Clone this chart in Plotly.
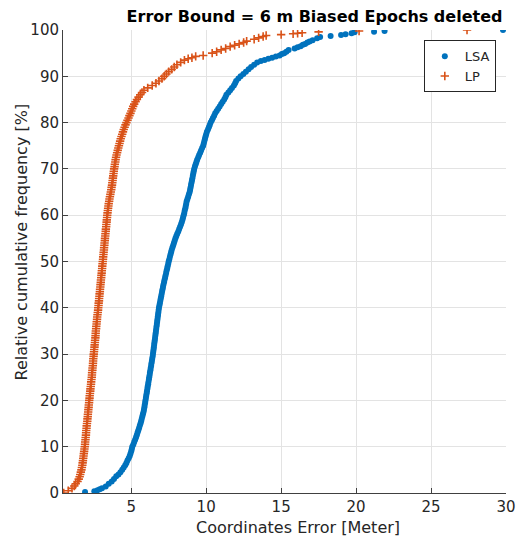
import plotly.graph_objects as go

# ---- data (cumulative percent, coordinate error in m) ----
lp_pct = [0, 0.5, 1, 1.5, 2, 2.5, 3, 3.5, 4, 4.5, 5, 5.5, 6, 6.5, 7, 7.5, 8, 8.5, 9, 9.5,
          10, 10.5, 11, 11.5, 12, 12.5, 13, 13.5, 14, 14.5, 15, 15.5, 16, 16.5, 17, 17.5, 18, 18.5, 19, 19.5,
          20, 20.5, 21, 21.5, 22, 22.5, 23, 23.5, 24, 24.5, 25, 25.5, 26, 26.5, 27, 27.5, 28, 28.5, 29, 29.5,
          30, 30.5, 31, 31.5, 32, 32.5, 33, 33.5, 34, 34.5, 35, 35.5, 36, 36.5, 37, 37.5, 38, 38.5, 39, 39.5,
          40, 40.5, 41, 41.5, 42, 42.5, 43, 43.5, 44, 44.5, 45, 45.5, 46, 46.5, 47, 47.5, 48, 48.5, 49, 49.5,
          50, 50.5, 51, 51.5, 52, 52.5, 53, 53.5, 54, 54.5, 55, 55.5, 56, 56.5, 57, 57.5, 58, 58.5, 59, 59.5,
          60, 60.5, 61, 61.5, 62, 62.5, 63, 63.5, 64, 64.5, 65, 65.5, 66, 66.5, 67, 67.5, 68, 68.5, 69, 69.5,
          70, 70.5, 71, 71.5, 72, 72.5, 73, 73.5, 74, 74.5, 75, 75.5, 76, 76.5, 77, 77.5, 78, 78.5, 79, 79.5,
          80, 80.5, 81, 81.5, 82, 82.5, 83, 83.5, 84, 84.5, 85, 85.5, 86, 86.5, 87, 87.5, 88, 88.5, 89, 89.5,
          90, 90.5, 91, 91.5, 92, 92.5, 93, 93.5, 93.8, 94, 94.3, 94.5, 95, 95.3, 95.7, 96, 96.4, 96.7, 97,
          97.3, 97.6, 98, 98.3, 98.6, 98.8, 99.0, 99.2, 99.3, 99.4, 99.6, 99.8, 100]
lp_err = [0.5, 0.8, 1.05, 1.2, 1.3, 1.42, 1.5, 1.56, 1.6, 1.64, 1.68, 1.71, 1.74, 1.76, 1.78, 1.8, 1.82, 1.84, 1.86, 1.88,
          1.9, 1.92, 1.93, 1.95, 1.96, 1.98, 1.99, 2.0, 2.02, 2.03, 2.05, 2.07, 2.08, 2.1, 2.11, 2.13, 2.14, 2.16, 2.17, 2.19,
          2.2, 2.22, 2.23, 2.25, 2.27, 2.28, 2.3, 2.32, 2.33, 2.35, 2.37, 2.38, 2.39, 2.41, 2.42, 2.44, 2.45, 2.46, 2.47, 2.49,
          2.5, 2.52, 2.53, 2.55, 2.56, 2.58, 2.59, 2.61, 2.62, 2.63, 2.64, 2.66, 2.67, 2.69, 2.7, 2.72, 2.73, 2.75, 2.77, 2.79,
          2.8, 2.82, 2.83, 2.85, 2.86, 2.88, 2.89, 2.91, 2.92, 2.94, 2.95, 2.97, 2.98, 3.0, 3.01, 3.03, 3.04, 3.06, 3.07, 3.09,
          3.1, 3.12, 3.13, 3.15, 3.16, 3.18, 3.19, 3.21, 3.22, 3.24, 3.25, 3.27, 3.28, 3.3, 3.31, 3.33, 3.34, 3.36, 3.37, 3.39,
          3.4, 3.42, 3.44, 3.46, 3.48, 3.5, 3.53, 3.55, 3.58, 3.61, 3.64, 3.67, 3.69, 3.72, 3.74, 3.76, 3.78, 3.8, 3.82, 3.84,
          3.86, 3.89, 3.91, 3.94, 3.96, 3.99, 4.02, 4.06, 4.1, 4.14, 4.18, 4.22, 4.26, 4.3, 4.35, 4.4, 4.45, 4.5, 4.56, 4.62,
          4.68, 4.75, 4.82, 4.88, 4.95, 5.01, 5.07, 5.13, 5.2, 5.29, 5.38, 5.49, 5.6, 5.72, 5.85, 6.1, 6.4, 6.65, 6.85, 7.05,
          7.2, 7.35, 7.5, 7.7, 7.87, 8.05, 8.3, 8.55, 8.8, 9.05, 9.3, 9.8, 10.4, 10.7, 11.0, 11.3, 11.6, 11.9, 12.2,
          12.5, 12.7, 13.2, 13.5, 13.8, 14.0, 15.0, 15.8, 16.1, 16.4, 17.5, 20.2, 27.4]

lsa_pct = [0.2, 0.4, 0.6, 0.8, 1.0, 1.4, 2, 2.5, 3, 3.6,
           4, 4.5, 5, 5.5, 6, 6.5, 7, 7.5, 8, 8.5, 9, 9.5,
           10, 10.5, 11, 11.5, 12, 12.5, 13, 13.5, 14, 14.5, 15, 15.5, 16, 16.5, 17, 17.5, 18, 18.5, 19, 19.5,
           20, 20.5, 21, 21.5, 22, 22.5, 23, 23.5, 24, 24.5, 25, 25.5, 26, 26.5, 27, 27.5, 28, 28.5, 29, 29.5,
           30, 30.5, 31, 31.5, 32, 32.5, 33, 33.5, 34, 34.5, 35, 35.5, 36, 36.5, 37, 37.5, 38, 38.5, 39, 39.5,
           40, 40.5, 41, 41.5, 42, 42.5, 43, 43.5, 44, 44.5, 45, 45.5, 46, 46.5, 47, 47.5, 48, 48.5, 49, 49.5,
           50, 50.5, 51, 51.5, 52, 52.5, 53, 53.5, 54, 54.5, 55, 55.5, 56, 56.5, 57, 57.5, 58, 58.5, 59, 59.5,
           60, 60.5, 61, 61.5, 62, 62.5, 63, 63.5, 64, 64.5, 65, 65.5, 66, 66.5, 67, 67.5, 68, 68.5, 69, 69.5,
           70, 70.5, 71, 71.5, 72, 72.5, 73, 73.5, 74, 74.5, 75, 75.5, 76, 76.5, 77, 77.5, 78, 78.5, 79, 79.5,
           80, 80.5, 81, 81.5, 82, 82.5, 83, 83.5, 84, 84.5, 85, 85.5, 86, 86.5, 87, 87.5, 88, 88.5, 89, 89.5,
           90, 90.5, 91, 91.5, 92, 92.5, 93, 93.3, 93.5, 93.8, 94, 94.3, 94.5, 94.8, 95, 95.3,
           95.7, 96, 96.3, 96.5, 96.8, 97, 97.3, 97.5, 97.8, 98.2, 98.5, 98.7, 98.9, 99.1,
           99.3, 99.5, 99.6, 99.8, 100]
lsa_err = [1.92, 2.54, 2.75, 2.9, 3.05, 3.3, 3.5, 3.7, 3.85, 4.0,
           4.15, 4.28, 4.4, 4.5, 4.6, 4.68, 4.75, 4.83, 4.9, 4.95, 5.0, 5.04,
           5.07, 5.14, 5.2, 5.26, 5.32, 5.37, 5.42, 5.47, 5.52, 5.57, 5.62, 5.66, 5.7, 5.74, 5.78, 5.82, 5.85, 5.88, 5.9, 5.93,
           5.95, 5.98, 6.0, 6.03, 6.05, 6.08, 6.1, 6.13, 6.15, 6.18, 6.2, 6.23, 6.25, 6.28, 6.3, 6.33, 6.35, 6.38, 6.4, 6.43,
           6.45, 6.47, 6.49, 6.51, 6.53, 6.55, 6.57, 6.59, 6.61, 6.63, 6.65, 6.67, 6.69, 6.71, 6.73, 6.75, 6.77, 6.79, 6.81, 6.83,
           6.85, 6.88, 6.91, 6.94, 6.97, 7.0, 7.03, 7.06, 7.09, 7.12, 7.15, 7.19, 7.22, 7.26, 7.29, 7.33, 7.36, 7.4, 7.43, 7.47,
           7.5, 7.54, 7.58, 7.62, 7.66, 7.7, 7.75, 7.8, 7.85, 7.9, 7.95, 8.01, 8.07, 8.14, 8.2, 8.26, 8.32, 8.37, 8.42, 8.46,
           8.5, 8.54, 8.57, 8.61, 8.64, 8.67, 8.7, 8.75, 8.8, 8.85, 8.9, 8.93, 8.96, 8.99, 9.02, 9.05, 9.08, 9.11, 9.14, 9.17,
           9.2, 9.25, 9.3, 9.35, 9.4, 9.47, 9.53, 9.6, 9.66, 9.73, 9.8, 9.84, 9.88, 9.92, 9.96, 10.0, 10.05, 10.12, 10.18, 10.24,
           10.3, 10.38, 10.45, 10.53, 10.6, 10.7, 10.8, 10.9, 11.0, 11.1, 11.2, 11.28, 11.35, 11.48, 11.6, 11.72, 11.85, 11.93, 12.0, 12.15,
           12.3, 12.48, 12.65, 12.83, 13.0, 13.2, 13.4, 13.65, 13.9, 14.15, 14.4, 14.65, 14.9, 15.05, 15.2, 15.35,
           15.5, 15.9, 16.1, 16.3, 16.45, 16.6, 16.75, 16.9, 17.1, 17.4, 17.6, 18.3, 19.0, 19.3,
           19.7, 19.9, 21.2, 21.9, 29.8]

x_ticks = [5, 10, 15, 20, 25, 30]
y_ticks = [0, 10, 20, 30, 40, 50, 60, 70, 80, 90, 100]

BLUE = "#0072BD"
ORANGE = "#D95319"
TXT = "#262626"
GRID = "#e3e3e3"
FONT = "DejaVu Sans"
W, H = 517, 542

fig = go.Figure()
fig.add_trace(go.Scatter(
    x=lsa_err, y=lsa_pct, mode="markers", name="LSA",
    marker=dict(symbol="circle", size=6, color=BLUE, line=dict(width=0)),
))
fig.add_trace(go.Scatter(
    x=lp_err, y=lp_pct, mode="markers", name="LP",
    marker=dict(symbol="cross-thin", size=6, color=ORANGE,
                line=dict(width=1.6, color=ORANGE)),
))

axis_common = dict(
    showgrid=True, gridcolor=GRID, gridwidth=1,
    showline=True, linecolor="#404040", linewidth=1,
    ticks="inside", ticklen=5, tickcolor="#404040", tickwidth=1,
    zeroline=False, mirror=False, automargin=False,
    tickfont=dict(family=FONT, size=15, color=TXT),
)

fig.update_layout(
    width=W, height=H,
    margin=dict(l=63, r=11, t=30, b=49),
    paper_bgcolor="white", plot_bgcolor="white",
    font=dict(family=FONT, color=TXT),
    title=dict(
        text="<b>Error Bound = 6 m Biased Epochs deleted</b>",
        font=dict(family=FONT, size=16, color="black"),
        xref="paper", x=0.992, xanchor="right",
        yref="container", y=1 - 16 / H, yanchor="middle",
    ),
    xaxis=dict(range=[0.45, 30], tickvals=x_ticks, **axis_common),
    yaxis=dict(range=[0, 100], tickvals=y_ticks, **axis_common),
    legend=dict(
        x=0.977, xanchor="right", y=0.978, yanchor="top",
        bgcolor="white", bordercolor=TXT, borderwidth=1,
        font=dict(family=FONT, size=13, color=TXT),
        itemwidth=30, tracegroupgap=0,
    ),
    showlegend=True,
    annotations=[
        dict(text="Coordinates Error [Meter]", xref="paper", yref="paper",
             x=(298 - 63) / (W - 63 - 11), y=-(527 - 493) / (H - 30 - 49),
             xanchor="center", yanchor="middle", showarrow=False,
             font=dict(family=FONT, size=16, color=TXT)),
        dict(text="Relative cumulative frequency [%]", xref="paper", yref="paper",
             x=-(63 - 21) / (W - 63 - 11), y=(493 - 242.5) / (H - 30 - 49),
             xanchor="center", yanchor="middle", textangle=-90, showarrow=False,
             font=dict(family=FONT, size=16, color=TXT)),
    ],
)

fig.write_html("out.html")
